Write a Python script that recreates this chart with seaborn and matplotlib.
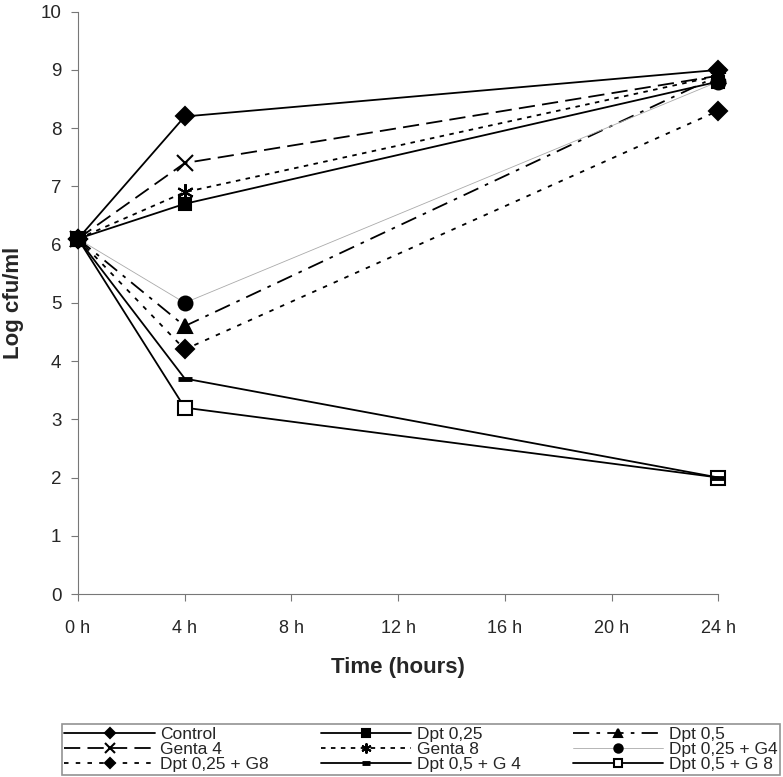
import pandas as pd
import matplotlib.pyplot as plt
import seaborn as sns

# Time points (hours) and log cfu/ml per treatment
hours = [0, 4, 24]
control = [6.1, 8.2, 9.0]
dpt_025 = [6.1, 6.7, 8.8]
dpt_05 = [6.1, 4.6, 8.9]
genta_4 = [6.1, 7.4, 8.9]
genta_8 = [6.1, 6.9, 8.9]
dpt_025_g4 = [6.1, 5.0, 8.8]
dpt_025_g8 = [6.1, 4.2, 8.3]
dpt_05_g4 = [6.1, 3.7, 2.0]
dpt_05_g8 = [6.1, 3.2, 2.0]

labels = ["Control", "Dpt 0,25", "Dpt 0,5", "Genta 4", "Genta 8",
          "Dpt 0,25 + G4", "Dpt 0,25 + G8", "Dpt 0,5 + G 4", "Dpt 0,5 + G 8"]
values = [control, dpt_025, dpt_05, genta_4, genta_8,
          dpt_025_g4, dpt_025_g8, dpt_05_g4, dpt_05_g8]

xticks = [0, 4, 8, 12, 16, 20, 24]
xticklabels = [f"{t} h" for t in xticks]

data = pd.DataFrame({
    "time": hours * len(labels),
    "logcfu": [v for vals in values for v in vals],
    "group": [lab for lab in labels for _ in hours],
})

# style for each series (Excel-like black & white); z = drawing order
styles = {
    "Control":       dict(ls="-", marker="D", ms=9, lw=1.3, color="black", mfc="black", mew=1.5, z=3),
    "Dpt 0,25":      dict(ls="-", marker="s", ms=9, lw=1.3, color="black", mfc="black", mew=1.5, z=12),
    "Dpt 0,5":       dict(ls=(0, (9, 4, 2, 4)), marker="^", ms=10, lw=1.3, color="black", mfc="black", mew=1.5, z=4),
    "Genta 4":       dict(ls=(0, (9, 4)), marker="x", ms=12, lw=1.3, color="black", mfc="black", mew=1.5, z=5),
    "Genta 8":       dict(ls=(0, (2.5, 3)), marker=(6, 2, 0), ms=12, lw=1.3, color="black", mfc="black", mew=1.5, z=6),
    "Dpt 0,25 + G4": dict(ls="-", marker="o", ms=10, lw=0.6, color="#aaaaaa", mfc="black", mew=1.5, z=7),
    "Dpt 0,25 + G8": dict(ls=(0, (2.5, 4)), marker="D", ms=9, lw=1.3, color="black", mfc="black", mew=1.5, z=8),
    "Dpt 0,5 + G 4": dict(ls="-", marker="_", ms=10, lw=1.3, color="black", mfc="black", mew=3.5, z=10),
    "Dpt 0,5 + G 8": dict(ls="-", marker="s", ms=10, lw=1.3, color="black", mfc="white", mew=1.5, z=9),
}

sns.set_style("white")
plt.rcParams['font.family'] = ['Liberation Sans Narrow', 'Liberation Sans', 'DejaVu Sans']

fig = plt.figure(figsize=(7.83, 7.77), dpi=100)
ax = fig.add_axes([0.0996, 0.2355, 0.818, 0.7495])

for lab in labels:
    st = styles[lab]
    sub = data[data["group"] == lab]
    sns.lineplot(data=sub, x="time", y="logcfu", ax=ax, label=lab,
                 color=st["color"], linestyle=st["ls"], linewidth=st["lw"],
                 marker=st["marker"], markersize=st["ms"],
                 markerfacecolor=st["mfc"], markeredgecolor="black",
                 markeredgewidth=st["mew"], legend=False, clip_on=False,
                 zorder=st["z"])

ax.set_xlim(0, 24)
ax.set_ylim(0, 10)
ax.set_xticks(xticks)
ax.set_xticklabels(xticklabels, fontsize=13)
ax.set_yticks(range(0, 11))
ax.tick_params(axis="y", labelsize=13.5, pad=7)
ax.tick_params(axis="x", pad=14)
ax.tick_params(direction="out", length=5, color="#777777", left=True, bottom=True)
for side in ["top", "right"]:
    ax.spines[side].set_visible(False)
for side in ["left", "bottom"]:
    ax.spines[side].set_color("#777777")
ax.set_xlabel("Time (hours)", fontsize=16, fontweight="bold", family=["Liberation Sans", "DejaVu Sans"], labelpad=14)
ax.set_ylabel("Log cfu/ml", fontsize=16, fontweight="bold", family=["Liberation Sans", "DejaVu Sans"], labelpad=12)

# legend laid out row-wise (matplotlib fills columns first)
handles, hlabels = ax.get_legend_handles_labels()
order = [0, 3, 6, 1, 4, 7, 2, 5, 8]
leg = fig.legend([handles[i] for i in order], [hlabels[i] for i in order],
                 loc="lower left", bbox_to_anchor=(0.079, 0.003, 0.917, 0.062),
                 mode="expand", ncol=3, fontsize=12.5, frameon=True, fancybox=False,
                 edgecolor="#777777", handlelength=5.2, labelspacing=0.0,
                 borderpad=0.15, borderaxespad=0.0, columnspacing=0.5,
                 handletextpad=0.3, markerscale=0.6)
leg.get_frame().set_linewidth(1.2)
for h in leg.legend_handles:
    h.set_clip_on(True)

fig.savefig("out.png", dpi=100)
